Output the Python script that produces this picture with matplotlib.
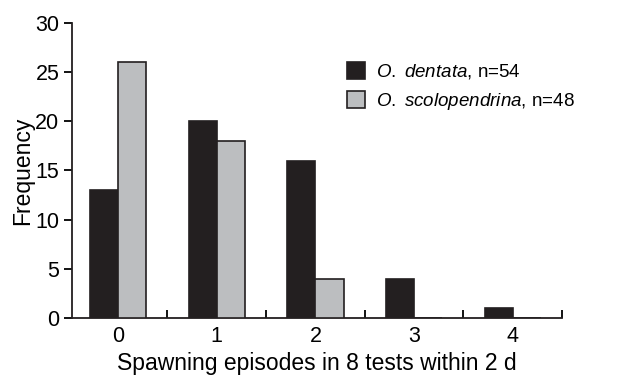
import numpy as np
import matplotlib.pyplot as plt
from matplotlib.ticker import FixedLocator

plt.rcParams["font.family"] = ["Liberation Sans", "DejaVu Sans"]
plt.rcParams["mathtext.fontset"] = "custom"
plt.rcParams["mathtext.rm"] = "Liberation Sans"
plt.rcParams["mathtext.it"] = "Liberation Sans:italic"

episodes = [0, 1, 2, 3, 4]
dentata = [13, 20, 16, 4, 1]
scolopendrina = [26, 18, 4, 0, 0]

x = np.arange(len(episodes))
w = 0.285

fig = plt.figure(figsize=(6.19, 3.82), dpi=100)
ax = fig.add_axes([0.116, 0.1675, 0.792, 0.7725])

ax.bar(x - w / 2, dentata, w, color="#231f20", edgecolor="#231f20", linewidth=1.2,
       label=r"$\mathit{O.}$ $\mathit{dentata}$, n=54", zorder=3)
ax.bar(x + w / 2, scolopendrina, w, color="#bcbec0", edgecolor="#231f20", linewidth=1.2,
       label=r"$\mathit{O.}$ $\mathit{scolopendrina}$, n=48", zorder=3)

ax.set_xlim(-0.47, 4.5)
ax.set_ylim(0, 30)
ax.set_yticks([0, 5, 10, 15, 20, 25, 30])
ax.set_xticks(x)
ax.set_xticklabels([str(e) for e in episodes])
ax.xaxis.set_minor_locator(FixedLocator([0.5, 1.5, 2.5, 3.5, 4.5]))
ax.tick_params(axis="x", which="major", length=0, pad=6, labelsize=15.5)
ax.tick_params(axis="x", which="minor", direction="in", length=6, width=1.3)
ax.tick_params(axis="y", direction="out", length=6, width=1.3, labelsize=15.5, pad=3)

for s in ["top", "right"]:
    ax.spines[s].set_visible(False)
for s in ["left", "bottom"]:
    ax.spines[s].set_linewidth(1.3)
    ax.spines[s].set_color("#231f20")

ax.set_xlabel("Spawning episodes in 8 tests within 2 d", fontsize=16.5, labelpad=3)
ax.set_ylabel("Frequency", fontsize=16.5, labelpad=1)

ax.legend(loc="upper left", bbox_to_anchor=(0.527, 0.925), frameon=False, fontsize=13.5,
          handlelength=0.95, handleheight=1.0, handletextpad=0.6, labelspacing=0.5)

fig.savefig("out.png", dpi=100)
